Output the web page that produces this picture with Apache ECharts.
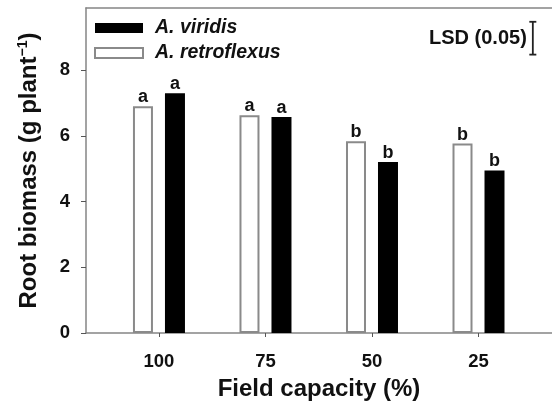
<!DOCTYPE html>
<html>
<head>
<meta charset="utf-8">
<script src="https://cdn.jsdelivr.net/npm/echarts@6/dist/echarts.min.js"></script>
<style>html,body{margin:0;padding:0;background:#fff;}#c{width:552px;height:406px;}</style>
</head>
<body>
<div id="c"></div>
<script>
// ---- data ----
var categories = ['100', '75', '50', '25'];
var retroflexusValues = [6.91, 6.63, 5.84, 5.77];
var viridisValues = [7.30, 6.58, 5.21, 4.95];
var retroflexusLetters = ['a', 'a', 'b', 'b'];
var viridisLetters = ['a', 'a', 'b', 'b'];
var yTicks = [0, 2, 4, 6, 8];
var lsdValue = 1.0;          // LSD (0.05) bar length
var lsdAnchor = [4.51, 8.48]; // where the LSD bar sits (data coords)

var FONT = '"Liberation Sans", Arial, sans-serif';
var xPositions = categories.map(function (c, i) { return i + 1; });

function toPairs(vals) {
  return vals.map(function (v, i) { return [xPositions[i], v]; });
}

var chart = echarts.init(document.getElementById('c'), null, { renderer: 'canvas' });

var axisLineStyle = { color: '#858585', width: 1.5 };

var option = {
  backgroundColor: '#ffffff',
  animation: false,
  grid: { left: 86, right: 0, top: 8, bottom: 72, containLabel: false },
  legend: {
    orient: 'vertical',
    left: 94,
    top: 18,
    padding: 0,
    icon: 'rect',
    itemWidth: 48,
    itemHeight: 10,
    itemGap: 5,
    data: ['A. viridis', 'A. retroflexus'],
    textStyle: {
      fontFamily: FONT, fontSize: 19.5, fontWeight: 'bold', fontStyle: 'italic',
      color: '#111', padding: [0, 0, 0, 7]
    }
  },
  xAxis: [{
    type: 'value',
    min: 0.315,
    max: 4.69,
    position: 'bottom',
    axisLine: { show: true, onZero: false, lineStyle: axisLineStyle },
    axisTick: { show: true, length: 4, customValues: xPositions, lineStyle: { color: '#555', width: 1 } },
    axisLabel: {
      customValues: xPositions,
      margin: 19,
      fontFamily: FONT, fontSize: 18.5, fontWeight: 'bold', color: '#111',
      formatter: function (v) { return categories[Math.round(v) - 1] || ''; }
    },
    splitLine: { show: false },
    name: 'Field capacity (%)',
    nameLocation: 'middle',
    nameGap: 44,
    nameTextStyle: { fontFamily: FONT, fontSize: 24, fontWeight: 'bold', color: '#111' }
  }, {
    type: 'value',
    min: 0.315,
    max: 4.69,
    position: 'top',
    axisLine: { show: true, onZero: false, lineStyle: axisLineStyle },
    axisTick: { show: false },
    axisLabel: { show: false },
    splitLine: { show: false }
  }],
  yAxis: {
    type: 'value',
    min: 0,
    max: 9.9,
    interval: 2,
    axisLine: { show: true, onZero: false, lineStyle: axisLineStyle },
    axisTick: { show: true, length: 5, customValues: yTicks, lineStyle: { color: '#555', width: 1 } },
    axisLabel: {
      customValues: yTicks,
      margin: 16,
      fontFamily: FONT, fontSize: 18.5, fontWeight: 'bold', color: '#111'
    },
    splitLine: { show: false },
    name: '{a|Root biomass (g plant}{s|−1}{a|)}',
    nameLocation: 'middle',
    nameGap: 44,
    nameTextStyle: {
      rich: {
        a: { fontFamily: FONT, fontSize: 24, fontWeight: 'bold', color: '#111', lineHeight: 26 },
        s: { fontFamily: FONT, fontSize: 14, fontWeight: 'bold', color: '#111', verticalAlign: 'top', lineHeight: 26 }
      }
    }
  },
  series: [{
    name: 'A. retroflexus',
    type: 'bar',
    xAxisIndex: 0,
    barWidth: 20,
    barGap: '60%',
    data: toPairs(retroflexusValues),
    itemStyle: { color: '#ffffff', borderColor: '#8a8a8a', borderWidth: 2 },
    label: {
      show: true, position: 'top', distance: 0,
      fontFamily: FONT, fontSize: 18, fontWeight: 'bold', color: '#111',
      formatter: function (p) { return retroflexusLetters[p.dataIndex]; }
    }
  }, {
    name: 'A. viridis',
    type: 'bar',
    xAxisIndex: 0,
    barWidth: 20,
    barGap: '60%',
    data: toPairs(viridisValues),
    itemStyle: { color: '#000000' },
    label: {
      show: true, position: 'top', distance: 0,
      fontFamily: FONT, fontSize: 18, fontWeight: 'bold', color: '#111',
      formatter: function (p) { return viridisLetters[p.dataIndex]; }
    }
  }, {
    name: 'LSD',
    type: 'custom',
    xAxisIndex: 0,
    silent: true,
    data: [[lsdAnchor[0], lsdAnchor[1], lsdValue]],
    renderItem: function (params, api) {
      var lo = api.coord([api.value(0), api.value(1)]);
      var hi = api.coord([api.value(0), api.value(1) + api.value(2)]);
      var cap = 3.5;
      var st = { stroke: '#222', lineWidth: 1.8 };
      return {
        type: 'group',
        children: [
          { type: 'line', shape: { x1: lo[0], y1: lo[1], x2: hi[0], y2: hi[1] }, style: st },
          { type: 'line', shape: { x1: lo[0] - cap, y1: lo[1], x2: lo[0] + cap, y2: lo[1] }, style: st },
          { type: 'line', shape: { x1: hi[0] - cap, y1: hi[1], x2: hi[0] + cap, y2: hi[1] }, style: st },
          { type: 'text', x: lo[0] - 6, y: (lo[1] + hi[1]) / 2,
            style: { text: 'LSD (0.05)', textAlign: 'right', textVerticalAlign: 'middle',
              fontFamily: FONT, fontSize: 20, fontWeight: 'bold', fill: '#111' } }
        ]
      };
    }
  }]
};

chart.setOption(option);
</script>
</body>
</html>
